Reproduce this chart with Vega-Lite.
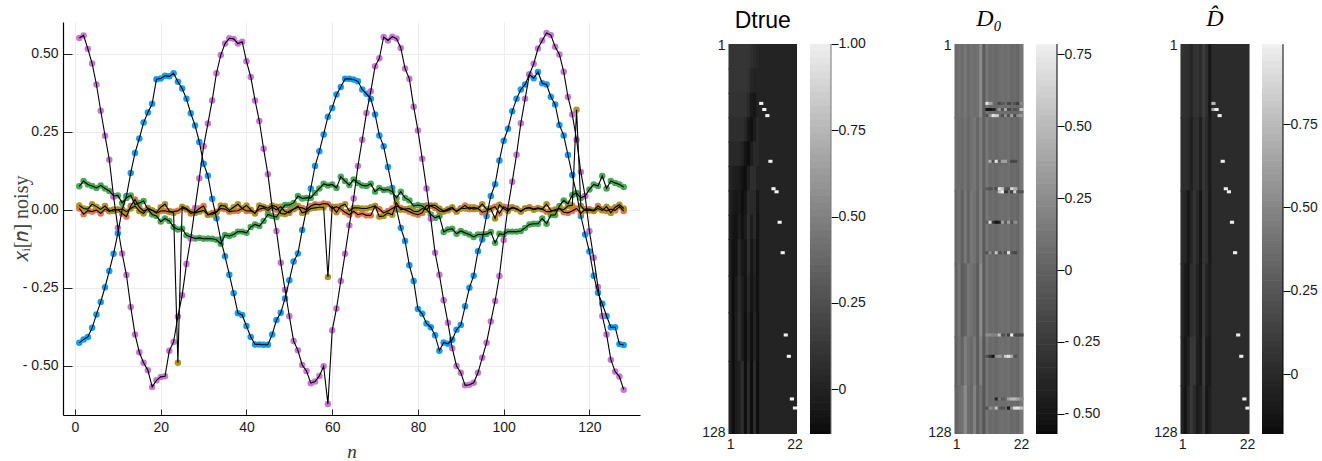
{"$schema":"https://vega.github.io/schema/vega-lite/v6.json","padding":{"left":11,"top":7,"right":5,"bottom":1},"bounds":"flush","spacing":13,"background":"white","config":{"view":{"stroke":null},"axis":{"labelFont":"Liberation Sans","labelFontSize":14,"labelColor":"#1a1a1a"}},"resolve":{"scale":{"color":"independent","x":"independent","y":"independent"}},
"datasets":{
"lines":[
{"n":1,"a":-0.426,"b":0.004,"c":0.075,"d":0.55,"e":0.014},{"n":2,"a":-0.415,"b":-0.014,"c":0.092,"d":0.558,"e":0.004},{"n":3,"a":-0.407,"b":-0.003,"c":0.081,"d":0.515,"e":0.002},{"n":4,"a":-0.378,"b":-0.006,"c":0.076,"d":0.468,"e":0.018},{"n":5,"a":-0.335,"b":-0.001,"c":0.07,"d":0.401,"e":0.01},{"n":6,"a":-0.295,"b":-0.012,"c":0.078,"d":0.317,"e":0.001},{"n":7,"a":-0.248,"b":0.002,"c":0.068,"d":0.237,"e":0.012},{"n":8,"a":-0.196,"b":-0.005,"c":0.06,"d":0.16,"e":-0.002},{"n":9,"a":-0.141,"b":0.001,"c":0.044,"d":0.042,"e":-0.004},{"n":10,"a":-0.075,"b":0.001,"c":0.046,"d":-0.058,"e":0.0},
{"n":11,"a":0.0,"b":-0.012,"c":0.022,"d":-0.14,"e":0.002},{"n":12,"a":0.044,"b":-0.022,"c":0.038,"d":-0.209,"e":-0.006},{"n":13,"a":0.118,"b":0.012,"c":0.046,"d":-0.311,"e":0.004},{"n":14,"a":0.182,"b":0.033,"c":0.017,"d":-0.399,"e":0.012},{"n":15,"a":0.228,"b":0.008,"c":0.022,"d":-0.456,"e":-0.004},{"n":16,"a":0.279,"b":-0.004,"c":0.028,"d":-0.49,"e":-0.012},{"n":17,"a":0.311,"b":0.002,"c":0.001,"d":-0.514,"e":0.006},{"n":18,"a":0.339,"b":-0.002,"c":-0.015,"d":-0.567,"e":-0.002},{"n":19,"a":0.418,"b":-0.011,"c":-0.02,"d":-0.546,"e":-0.008},{"n":20,"a":0.42,"b":-0.004,"c":-0.038,"d":-0.535,"e":0.008},
{"n":21,"a":0.429,"b":-0.003,"c":-0.028,"d":-0.533,"e":0.018},{"n":22,"a":0.427,"b":-0.007,"c":-0.036,"d":-0.451,"e":-0.004},{"n":23,"a":0.437,"b":-0.006,"c":-0.055,"d":-0.423,"e":-0.01},{"n":24,"a":0.41,"b":-0.003,"c":-0.063,"d":-0.342,"e":-0.49},{"n":25,"a":0.388,"b":0.006,"c":-0.061,"d":-0.274,"e":0.01},{"n":26,"a":0.355,"b":0.001,"c":-0.082,"d":-0.174,"e":0.004},{"n":27,"a":0.309,"b":-0.012,"c":-0.087,"d":-0.092,"e":-0.006},{"n":28,"a":0.27,"b":-0.008,"c":-0.092,"d":0.006,"e":-0.01},{"n":29,"a":0.217,"b":0.004,"c":-0.09,"d":0.101,"e":-0.006},{"n":30,"a":0.147,"b":0.012,"c":-0.093,"d":0.203,"e":-0.002},
{"n":31,"a":0.109,"b":-0.016,"c":-0.092,"d":0.276,"e":-0.016},{"n":32,"a":0.035,"b":-0.01,"c":-0.093,"d":0.35,"e":-0.015},{"n":33,"a":-0.027,"b":-0.006,"c":-0.096,"d":0.437,"e":-0.008},{"n":34,"a":-0.095,"b":0.004,"c":-0.109,"d":0.495,"e":0.014},{"n":35,"a":-0.149,"b":0.002,"c":-0.081,"d":0.532,"e":0.012},{"n":36,"a":-0.208,"b":-0.006,"c":-0.084,"d":0.549,"e":-0.002},{"n":37,"a":-0.267,"b":-0.004,"c":-0.079,"d":0.547,"e":0.008},{"n":38,"a":-0.331,"b":-0.003,"c":-0.07,"d":0.532,"e":0.018},{"n":39,"a":-0.337,"b":0.004,"c":-0.07,"d":0.538,"e":0.004},{"n":40,"a":-0.372,"b":-0.004,"c":-0.074,"d":0.475,"e":0.014},
{"n":41,"a":-0.407,"b":-0.003,"c":-0.055,"d":0.425,"e":0.0},{"n":42,"a":-0.431,"b":-0.01,"c":-0.047,"d":0.35,"e":-0.012},{"n":43,"a":-0.431,"b":0.002,"c":-0.052,"d":0.284,"e":0.014},{"n":44,"a":-0.432,"b":0.006,"c":-0.036,"d":0.195,"e":0.01},{"n":45,"a":-0.432,"b":-0.002,"c":-0.015,"d":0.114,"e":0.005},{"n":46,"a":-0.399,"b":0.008,"c":-0.02,"d":0.006,"e":0.014},{"n":47,"a":-0.353,"b":0.0,"c":-0.023,"d":-0.068,"e":0.01},{"n":48,"a":-0.33,"b":0.01,"c":-0.002,"d":-0.17,"e":-0.012},{"n":49,"a":-0.284,"b":-0.006,"c":0.015,"d":-0.256,"e":-0.014},{"n":50,"a":-0.226,"b":-0.01,"c":0.015,"d":-0.341,"e":-0.004},
{"n":51,"a":-0.166,"b":0.002,"c":0.022,"d":-0.42,"e":0.002},{"n":52,"a":-0.14,"b":0.008,"c":0.044,"d":-0.45,"e":0.012},{"n":53,"a":-0.065,"b":0.006,"c":0.036,"d":-0.497,"e":-0.01},{"n":54,"a":0.001,"b":0.0,"c":0.038,"d":-0.516,"e":-0.006},{"n":55,"a":0.068,"b":0.012,"c":0.038,"d":-0.555,"e":0.004},{"n":56,"a":0.14,"b":0.018,"c":0.054,"d":-0.55,"e":0.006},{"n":57,"a":0.187,"b":0.016,"c":0.068,"d":-0.532,"e":0.008},{"n":58,"a":0.241,"b":0.02,"c":0.083,"d":-0.501,"e":0.008},{"n":59,"a":0.298,"b":0.018,"c":0.078,"d":-0.622,"e":-0.215},{"n":60,"a":0.326,"b":0.004,"c":0.081,"d":-0.386,"e":0.01},
{"n":61,"a":0.369,"b":0.01,"c":0.07,"d":-0.316,"e":-0.008},{"n":62,"a":0.393,"b":0.002,"c":0.106,"d":-0.228,"e":0.012},{"n":63,"a":0.419,"b":-0.008,"c":0.092,"d":-0.141,"e":0.018},{"n":64,"a":0.419,"b":-0.016,"c":0.079,"d":-0.05,"e":-0.004},{"n":65,"a":0.417,"b":-0.005,"c":0.097,"d":0.036,"e":0.006},{"n":66,"a":0.411,"b":-0.016,"c":0.086,"d":0.14,"e":0.006},{"n":67,"a":0.385,"b":-0.012,"c":0.078,"d":0.224,"e":0.004},{"n":68,"a":0.371,"b":-0.018,"c":0.076,"d":0.31,"e":0.004},{"n":69,"a":0.355,"b":-0.018,"c":0.083,"d":0.379,"e":0.008},{"n":70,"a":0.305,"b":0.012,"c":0.058,"d":0.459,"e":0.012},
{"n":71,"a":0.238,"b":0.002,"c":0.07,"d":0.485,"e":-0.022},{"n":72,"a":0.203,"b":-0.01,"c":0.063,"d":0.553,"e":-0.02},{"n":73,"a":0.137,"b":-0.004,"c":0.065,"d":0.542,"e":-0.01},{"n":74,"a":0.07,"b":0.004,"c":0.058,"d":0.554,"e":-0.016},{"n":75,"a":0.001,"b":0.012,"c":0.038,"d":0.548,"e":0.022},{"n":76,"a":-0.058,"b":0.006,"c":0.058,"d":0.518,"e":0.0},{"n":77,"a":-0.1,"b":0.0,"c":0.038,"d":0.452,"e":0.002},{"n":78,"a":-0.178,"b":-0.006,"c":0.03,"d":0.419,"e":0.004},{"n":79,"a":-0.228,"b":-0.012,"c":0.012,"d":0.33,"e":-0.005},{"n":80,"a":-0.318,"b":-0.016,"c":0.015,"d":0.254,"e":-0.006},
{"n":81,"a":-0.333,"b":-0.01,"c":0.012,"d":0.163,"e":0.004},{"n":82,"a":-0.364,"b":0.014,"c":0.001,"d":0.068,"e":0.0},{"n":83,"a":-0.376,"b":0.012,"c":-0.015,"d":-0.029,"e":0.014},{"n":84,"a":-0.402,"b":0.006,"c":-0.026,"d":-0.138,"e":0.014},{"n":85,"a":-0.451,"b":-0.004,"c":-0.02,"d":-0.208,"e":0.004},{"n":86,"a":-0.425,"b":-0.006,"c":-0.071,"d":-0.29,"e":-0.004},{"n":87,"a":-0.429,"b":-0.002,"c":-0.063,"d":-0.362,"e":0.002},{"n":88,"a":-0.416,"b":0.004,"c":-0.061,"d":-0.443,"e":0.008},{"n":89,"a":-0.384,"b":-0.004,"c":-0.077,"d":-0.5,"e":-0.006},{"n":90,"a":-0.369,"b":0.004,"c":-0.068,"d":-0.522,"e":0.004},
{"n":91,"a":-0.309,"b":0.014,"c":-0.074,"d":-0.562,"e":0.004},{"n":92,"a":-0.25,"b":0.002,"c":-0.079,"d":-0.56,"e":0.008},{"n":93,"a":-0.211,"b":0.008,"c":-0.087,"d":-0.554,"e":0.002},{"n":94,"a":-0.133,"b":0.004,"c":-0.079,"d":-0.522,"e":0.004},{"n":95,"a":-0.095,"b":-0.008,"c":-0.079,"d":-0.474,"e":0.018},{"n":96,"a":-0.02,"b":-0.004,"c":-0.078,"d":-0.426,"e":0.002},{"n":97,"a":0.044,"b":0.004,"c":-0.071,"d":-0.358,"e":0.002},{"n":98,"a":0.082,"b":0.01,"c":-0.106,"d":-0.292,"e":-0.028},{"n":99,"a":0.158,"b":-0.012,"c":-0.077,"d":-0.212,"e":0.016},{"n":100,"a":0.221,"b":0.01,"c":-0.079,"d":-0.097,"e":0.004},
{"n":101,"a":0.259,"b":0.002,"c":-0.07,"d":0.008,"e":-0.004},{"n":102,"a":0.315,"b":0.006,"c":-0.07,"d":0.09,"e":0.008},{"n":103,"a":0.355,"b":0.004,"c":-0.07,"d":0.176,"e":0.002},{"n":104,"a":0.385,"b":-0.006,"c":-0.068,"d":0.277,"e":-0.004},{"n":105,"a":0.401,"b":0.004,"c":-0.058,"d":0.355,"e":0.004},{"n":106,"a":0.433,"b":0.008,"c":-0.047,"d":0.433,"e":0.006},{"n":107,"a":0.421,"b":0.002,"c":-0.045,"d":0.467,"e":0.0},{"n":108,"a":0.441,"b":0.006,"c":-0.045,"d":0.516,"e":0.004},{"n":109,"a":0.405,"b":0.002,"c":-0.028,"d":0.542,"e":0.002},{"n":110,"a":0.401,"b":-0.006,"c":-0.045,"d":0.566,"e":0.018},
{"n":111,"a":0.362,"b":-0.006,"c":-0.017,"d":0.559,"e":-0.002},{"n":112,"a":0.337,"b":0.001,"c":-0.017,"d":0.522,"e":-0.004},{"n":113,"a":0.271,"b":0.004,"c":0.012,"d":0.497,"e":0.004},{"n":114,"a":0.238,"b":-0.008,"c":0.03,"d":0.442,"e":0.0},{"n":115,"a":0.175,"b":-0.01,"c":0.019,"d":0.361,"e":0.012},{"n":116,"a":0.111,"b":-0.004,"c":0.047,"d":0.305,"e":0.014},{"n":117,"a":0.051,"b":0.004,"c":0.054,"d":0.224,"e":0.32},{"n":118,"a":-0.02,"b":-0.012,"c":0.038,"d":0.121,"e":0.012},{"n":119,"a":-0.079,"b":0.002,"c":0.044,"d":0.044,"e":-0.002},{"n":120,"a":-0.134,"b":0.002,"c":0.065,"d":-0.068,"e":-0.002},
{"n":121,"a":-0.211,"b":-0.002,"c":0.081,"d":-0.154,"e":-0.004},{"n":122,"a":-0.266,"b":0.012,"c":0.076,"d":-0.247,"e":0.004},{"n":123,"a":-0.301,"b":0.002,"c":0.108,"d":-0.34,"e":-0.002},{"n":124,"a":-0.34,"b":-0.004,"c":0.068,"d":-0.399,"e":0.01},{"n":125,"a":-0.376,"b":0.002,"c":0.092,"d":-0.48,"e":-0.01},{"n":126,"a":-0.376,"b":-0.002,"c":0.086,"d":-0.518,"e":0.008},{"n":127,"a":-0.43,"b":0.01,"c":0.081,"d":-0.534,"e":0.016},{"n":128,"a":-0.433,"b":-0.004,"c":0.073,"d":-0.576,"e":0.004}
],
"t":[
{"c":1,"a":0.5,"b":8.9,"v":0.1},{"c":2,"a":0.5,"b":8.9,"v":0.1},{"c":3,"a":0.5,"b":8.9,"v":0.1},{"c":4,"a":0.5,"b":8.9,"v":0.1},{"c":5,"a":0.5,"b":8.9,"v":0.1},{"c":6,"a":0.5,"b":8.9,"v":0.1},{"c":7,"a":0.5,"b":8.9,"v":0.1},{"c":8,"a":0.5,"b":8.9,"v":0.06},{"c":9,"a":0.5,"b":8.9,"v":0.04},{"c":10,"a":0.5,"b":8.9,"v":0.02},
{"c":1,"a":8.5,"b":16.9,"v":0.1},{"c":2,"a":8.5,"b":16.9,"v":0.1},{"c":3,"a":8.5,"b":16.9,"v":0.1},{"c":4,"a":8.5,"b":16.9,"v":0.1},{"c":5,"a":8.5,"b":16.9,"v":0.1},{"c":6,"a":8.5,"b":16.9,"v":0.1},{"c":7,"a":8.5,"b":16.9,"v":0.07},{"c":8,"a":8.5,"b":16.9,"v":0.01},{"c":9,"a":8.5,"b":16.9,"v":-0.01},{"c":10,"a":8.5,"b":16.9,"v":0},
{"c":1,"a":16.5,"b":24.9,"v":0.085},{"c":2,"a":16.5,"b":24.9,"v":0.085},{"c":3,"a":16.5,"b":24.9,"v":0.085},{"c":4,"a":16.5,"b":24.9,"v":0.085},{"c":5,"a":16.5,"b":24.9,"v":0.085},{"c":6,"a":16.5,"b":24.9,"v":0.085},{"c":7,"a":16.5,"b":24.9,"v":0.04},{"c":8,"a":16.5,"b":24.9,"v":-0.06},{"c":9,"a":16.5,"b":24.9,"v":-0.08},{"c":10,"a":16.5,"b":24.9,"v":-0.01},
{"c":1,"a":24.5,"b":32.9,"v":0.06},{"c":2,"a":24.5,"b":32.9,"v":0.06},{"c":3,"a":24.5,"b":32.9,"v":0.06},{"c":4,"a":24.5,"b":32.9,"v":0.06},{"c":5,"a":24.5,"b":32.9,"v":0.06},{"c":6,"a":24.5,"b":32.9,"v":0.02},{"c":7,"a":24.5,"b":32.9,"v":-0.07},{"c":8,"a":24.5,"b":32.9,"v":-0.11},{"c":9,"a":24.5,"b":32.9,"v":-0.05},{"c":10,"a":24.5,"b":32.9,"v":0.03},
{"c":1,"a":32.5,"b":40.9,"v":0.03},{"c":2,"a":32.5,"b":40.9,"v":0.03},{"c":3,"a":32.5,"b":40.9,"v":0.03},{"c":4,"a":32.5,"b":40.9,"v":0.03},{"c":5,"a":32.5,"b":40.9,"v":-0.01},{"c":6,"a":32.5,"b":40.9,"v":-0.09},{"c":7,"a":32.5,"b":40.9,"v":-0.12},{"c":8,"a":32.5,"b":40.9,"v":-0.04},{"c":9,"a":32.5,"b":40.9,"v":0.04},{"c":10,"a":32.5,"b":40.9,"v":0.03},
{"c":1,"a":40.5,"b":48.9,"v":0.01},{"c":2,"a":40.5,"b":48.9,"v":-0.02},{"c":3,"a":40.5,"b":48.9,"v":-0.04},{"c":4,"a":40.5,"b":48.9,"v":-0.05},{"c":5,"a":40.5,"b":48.9,"v":-0.1},{"c":6,"a":40.5,"b":48.9,"v":-0.12},{"c":7,"a":40.5,"b":48.9,"v":-0.02},{"c":8,"a":40.5,"b":48.9,"v":0.06},{"c":9,"a":40.5,"b":48.9,"v":0.06},{"c":10,"a":40.5,"b":48.9,"v":0},
{"c":1,"a":48.5,"b":56.9,"v":0},{"c":2,"a":48.5,"b":56.9,"v":-0.06},{"c":3,"a":48.5,"b":56.9,"v":-0.08},{"c":4,"a":48.5,"b":56.9,"v":-0.06},{"c":5,"a":48.5,"b":56.9,"v":-0.12},{"c":6,"a":48.5,"b":56.9,"v":-0.08},{"c":7,"a":48.5,"b":56.9,"v":0.05},{"c":8,"a":48.5,"b":56.9,"v":0.03},{"c":9,"a":48.5,"b":56.9,"v":0.03},{"c":10,"a":48.5,"b":56.9,"v":-0.08},
{"c":1,"a":56.5,"b":64.9,"v":-0.02},{"c":2,"a":56.5,"b":64.9,"v":-0.09},{"c":3,"a":56.5,"b":64.9,"v":-0.11},{"c":4,"a":56.5,"b":64.9,"v":-0.02},{"c":5,"a":56.5,"b":64.9,"v":-0.11},{"c":6,"a":56.5,"b":64.9,"v":-0.05},{"c":7,"a":56.5,"b":64.9,"v":0.07},{"c":8,"a":56.5,"b":64.9,"v":-0.04},{"c":9,"a":56.5,"b":64.9,"v":0.04},{"c":10,"a":56.5,"b":64.9,"v":-0.1},
{"c":1,"a":64.5,"b":76.9,"v":-0.02},{"c":2,"a":64.5,"b":76.9,"v":-0.11},{"c":3,"a":64.5,"b":76.9,"v":-0.1},{"c":4,"a":64.5,"b":76.9,"v":0.03},{"c":5,"a":64.5,"b":76.9,"v":-0.07},{"c":6,"a":64.5,"b":76.9,"v":-0.1},{"c":7,"a":64.5,"b":76.9,"v":0.06},{"c":8,"a":64.5,"b":76.9,"v":-0.08},{"c":9,"a":64.5,"b":76.9,"v":-0.01},{"c":10,"a":64.5,"b":76.9,"v":-0.11},
{"c":1,"a":76.5,"b":88.9,"v":0},{"c":2,"a":76.5,"b":88.9,"v":-0.12},{"c":3,"a":76.5,"b":88.9,"v":-0.06},{"c":4,"a":76.5,"b":88.9,"v":0.05},{"c":5,"a":76.5,"b":88.9,"v":-0.04},{"c":6,"a":76.5,"b":88.9,"v":-0.11},{"c":7,"a":76.5,"b":88.9,"v":0.03},{"c":8,"a":76.5,"b":88.9,"v":-0.09},{"c":9,"a":76.5,"b":88.9,"v":-0.03},{"c":10,"a":76.5,"b":88.9,"v":-0.1},
{"c":1,"a":88.5,"b":104.9,"v":0.01},{"c":2,"a":88.5,"b":104.9,"v":-0.12},{"c":3,"a":88.5,"b":104.9,"v":-0.04},{"c":4,"a":88.5,"b":104.9,"v":0.06},{"c":5,"a":88.5,"b":104.9,"v":-0.04},{"c":6,"a":88.5,"b":104.9,"v":-0.12},{"c":7,"a":88.5,"b":104.9,"v":0.01},{"c":8,"a":88.5,"b":104.9,"v":-0.11},{"c":9,"a":88.5,"b":104.9,"v":0.01},{"c":10,"a":88.5,"b":104.9,"v":-0.11},
{"c":1,"a":104.5,"b":128.5,"v":-0.01},{"c":2,"a":104.5,"b":128.5,"v":-0.12},{"c":3,"a":104.5,"b":128.5,"v":-0.05},{"c":4,"a":104.5,"b":128.5,"v":-0.02},{"c":5,"a":104.5,"b":128.5,"v":0.06},{"c":6,"a":104.5,"b":128.5,"v":-0.12},{"c":7,"a":104.5,"b":128.5,"v":0.05},{"c":8,"a":104.5,"b":128.5,"v":-0.12},{"c":9,"a":104.5,"b":128.5,"v":0.05},{"c":10,"a":104.5,"b":128.5,"v":-0.12},
{"c":11,"a":0.5,"b":128.5,"v":0},{"c":12,"a":0.5,"b":128.5,"v":0},{"c":13,"a":0.5,"b":128.5,"v":0},{"c":14,"a":0.5,"b":128.5,"v":0},{"c":15,"a":0.5,"b":128.5,"v":0},{"c":16,"a":0.5,"b":128.5,"v":0},{"c":17,"a":0.5,"b":128.5,"v":0},{"c":18,"a":0.5,"b":128.5,"v":0},{"c":19,"a":0.5,"b":128.5,"v":0},{"c":20,"a":0.5,"b":128.5,"v":0},{"c":21,"a":0.5,"b":128.5,"v":0},{"c":22,"a":0.5,"b":128.5,"v":0},
{"c":11,"a":19.5,"b":20.5,"v":1},{"c":12,"a":21.5,"b":22.5,"v":1},{"c":13,"a":23.5,"b":24.5,"v":1},{"c":14,"a":38.5,"b":39.5,"v":1},{"c":15,"a":47.5,"b":48.5,"v":1},{"c":16,"a":48.5,"b":49.5,"v":1},{"c":17,"a":58.5,"b":59.5,"v":1},{"c":18,"a":68.5,"b":69.5,"v":1},{"c":19,"a":95.5,"b":96.5,"v":1},{"c":20,"a":102.5,"b":103.5,"v":1},{"c":21,"a":116.5,"b":117.5,"v":1},{"c":22,"a":119.5,"b":120.5,"v":1}
],
"z":[
{"c":1,"a":0.5,"b":24.9,"v":0.04},{"c":2,"a":0.5,"b":24.9,"v":0.09},{"c":3,"a":0.5,"b":24.9,"v":0.05},{"c":4,"a":0.5,"b":24.9,"v":0.11},{"c":5,"a":0.5,"b":24.9,"v":0.04},{"c":6,"a":0.5,"b":24.9,"v":0.09},{"c":7,"a":0.5,"b":24.9,"v":0.06},{"c":8,"a":0.5,"b":24.9,"v":0.08},{"c":9,"a":0.5,"b":24.9,"v":0.24},{"c":10,"a":0.5,"b":24.9,"v":-0.05},
{"c":1,"a":24.5,"b":48.9,"v":0.05},{"c":2,"a":24.5,"b":48.9,"v":0.06},{"c":3,"a":24.5,"b":48.9,"v":0.04},{"c":4,"a":24.5,"b":48.9,"v":0.09},{"c":5,"a":24.5,"b":48.9,"v":0.02},{"c":6,"a":24.5,"b":48.9,"v":0.08},{"c":7,"a":24.5,"b":48.9,"v":0.11},{"c":8,"a":24.5,"b":48.9,"v":0.02},{"c":9,"a":24.5,"b":48.9,"v":0.15},{"c":10,"a":24.5,"b":48.9,"v":-0.02},
{"c":1,"a":48.5,"b":72.9,"v":0.02},{"c":2,"a":48.5,"b":72.9,"v":0.09},{"c":3,"a":48.5,"b":72.9,"v":-0.02},{"c":4,"a":48.5,"b":72.9,"v":0.12},{"c":5,"a":48.5,"b":72.9,"v":0},{"c":6,"a":48.5,"b":72.9,"v":0.12},{"c":7,"a":48.5,"b":72.9,"v":0.09},{"c":8,"a":48.5,"b":72.9,"v":0},{"c":9,"a":48.5,"b":72.9,"v":0.18},{"c":10,"a":48.5,"b":72.9,"v":-0.05},
{"c":1,"a":72.5,"b":96.9,"v":0},{"c":2,"a":72.5,"b":96.9,"v":0.12},{"c":3,"a":72.5,"b":96.9,"v":-0.05},{"c":4,"a":72.5,"b":96.9,"v":0},{"c":5,"a":72.5,"b":96.9,"v":0.12},{"c":6,"a":72.5,"b":96.9,"v":0.09},{"c":7,"a":72.5,"b":96.9,"v":0.04},{"c":8,"a":72.5,"b":96.9,"v":-0.05},{"c":9,"a":72.5,"b":96.9,"v":0.24},{"c":10,"a":72.5,"b":96.9,"v":-0.05},
{"c":1,"a":96.5,"b":112.9,"v":-0.02},{"c":2,"a":96.5,"b":112.9,"v":0.09},{"c":3,"a":96.5,"b":112.9,"v":0},{"c":4,"a":96.5,"b":112.9,"v":0.15},{"c":5,"a":96.5,"b":112.9,"v":0.08},{"c":6,"a":96.5,"b":112.9,"v":0.04},{"c":7,"a":96.5,"b":112.9,"v":0.12},{"c":8,"a":96.5,"b":112.9,"v":-0.05},{"c":9,"a":96.5,"b":112.9,"v":0.18},{"c":10,"a":96.5,"b":112.9,"v":-0.08},
{"c":1,"a":112.5,"b":128.5,"v":0},{"c":2,"a":112.5,"b":128.5,"v":0.06},{"c":3,"a":112.5,"b":128.5,"v":0.09},{"c":4,"a":112.5,"b":128.5,"v":0.24},{"c":5,"a":112.5,"b":128.5,"v":0.06},{"c":6,"a":112.5,"b":128.5,"v":0.02},{"c":7,"a":112.5,"b":128.5,"v":0.18},{"c":8,"a":112.5,"b":128.5,"v":-0.02},{"c":9,"a":112.5,"b":128.5,"v":0.09},{"c":10,"a":112.5,"b":128.5,"v":-0.08},
{"c":11,"a":0.5,"b":128.5,"v":0.12},{"c":12,"a":0.5,"b":128.5,"v":0.04},{"c":13,"a":0.5,"b":128.5,"v":0.06},{"c":14,"a":0.5,"b":128.5,"v":0.03},{"c":15,"a":0.5,"b":128.5,"v":0.06},{"c":16,"a":0.5,"b":128.5,"v":0.07},{"c":17,"a":0.5,"b":128.5,"v":0.05},{"c":18,"a":0.5,"b":128.5,"v":0.08},{"c":19,"a":0.5,"b":128.5,"v":0.03},{"c":20,"a":0.5,"b":128.5,"v":0.05},{"c":21,"a":0.5,"b":128.5,"v":0.02},{"c":22,"a":0.5,"b":128.5,"v":0.11},
{"c":11,"a":19.5,"b":20.5,"v":0.71},{"c":12,"a":19.5,"b":20.5,"v":0.36},{"c":15,"a":19.5,"b":20.5,"v":-0.17},{"c":16,"a":19.5,"b":20.5,"v":-0.05},{"c":18,"a":19.5,"b":20.5,"v":-0.17},{"c":20,"a":19.5,"b":20.5,"v":-0.11},{"c":21,"a":19.5,"b":20.5,"v":-0.23},{"c":22,"a":19.5,"b":20.5,"v":0.24},
{"c":11,"a":21.5,"b":22.5,"v":-0.52},{"c":12,"a":21.5,"b":22.5,"v":-0.52},{"c":13,"a":21.5,"b":22.5,"v":-0.41},{"c":15,"a":21.5,"b":22.5,"v":0.3},{"c":16,"a":21.5,"b":22.5,"v":-0.11},{"c":17,"a":21.5,"b":22.5,"v":0.36},{"c":18,"a":21.5,"b":22.5,"v":-0.17},{"c":20,"a":21.5,"b":22.5,"v":-0.11},{"c":21,"a":21.5,"b":22.5,"v":-0.05},{"c":22,"a":21.5,"b":22.5,"v":0.54},
{"c":11,"a":23.5,"b":24.5,"v":-0.11},{"c":12,"a":23.5,"b":24.5,"v":0.24},{"c":13,"a":23.5,"b":24.5,"v":0.71},{"c":14,"a":23.5,"b":24.5,"v":0.59},{"c":16,"a":23.5,"b":24.5,"v":-0.11},{"c":17,"a":23.5,"b":24.5,"v":0.24},{"c":18,"a":23.5,"b":24.5,"v":-0.11},{"c":19,"a":23.5,"b":24.5,"v":0.36},{"c":20,"a":23.5,"b":24.5,"v":-0.17},{"c":21,"a":23.5,"b":24.5,"v":0.24},{"c":22,"a":23.5,"b":24.5,"v":0.3},
{"c":12,"a":38.5,"b":39.5,"v":0.42},{"c":13,"a":38.5,"b":39.5,"v":-0.11},{"c":14,"a":38.5,"b":39.5,"v":0.71},{"c":15,"a":38.5,"b":39.5,"v":-0.05},{"c":16,"a":38.5,"b":39.5,"v":0.36},{"c":17,"a":38.5,"b":39.5,"v":0.36},{"c":18,"a":38.5,"b":39.5,"v":0.06},{"c":19,"a":38.5,"b":39.5,"v":-0.17},{"c":20,"a":38.5,"b":39.5,"v":-0.17},
{"c":11,"a":47.5,"b":48.5,"v":-0.05},{"c":12,"a":47.5,"b":48.5,"v":-0.11},{"c":14,"a":47.5,"b":48.5,"v":-0.17},{"c":15,"a":47.5,"b":48.5,"v":0.71},{"c":16,"a":47.5,"b":48.5,"v":0.54},{"c":17,"a":47.5,"b":48.5,"v":-0.05},{"c":18,"a":47.5,"b":48.5,"v":-0.11},{"c":19,"a":47.5,"b":48.5,"v":0.65},{"c":20,"a":47.5,"b":48.5,"v":0.42},
{"c":15,"a":48.5,"b":49.5,"v":0.54},{"c":16,"a":48.5,"b":49.5,"v":0.77},{"c":17,"a":48.5,"b":49.5,"v":-0.29},{"c":19,"a":48.5,"b":49.5,"v":-0.23},{"c":20,"a":48.5,"b":49.5,"v":0.59},{"c":21,"a":48.5,"b":49.5,"v":-0.11},{"c":22,"a":48.5,"b":49.5,"v":-0.11},
{"c":11,"a":58.5,"b":59.5,"v":-0.05},{"c":12,"a":58.5,"b":59.5,"v":0.65},{"c":13,"a":58.5,"b":59.5,"v":-0.29},{"c":14,"a":58.5,"b":59.5,"v":-0.52},{"c":15,"a":58.5,"b":59.5,"v":-0.41},{"c":16,"a":58.5,"b":59.5,"v":0.36},{"c":17,"a":58.5,"b":59.5,"v":-0.05},{"c":18,"a":58.5,"b":59.5,"v":0.36},{"c":19,"a":58.5,"b":59.5,"v":-0.11},{"c":20,"a":58.5,"b":59.5,"v":0.24},
{"c":11,"a":68.5,"b":69.5,"v":-0.11},{"c":12,"a":68.5,"b":69.5,"v":0.24},{"c":13,"a":68.5,"b":69.5,"v":-0.05},{"c":14,"a":68.5,"b":69.5,"v":0.54},{"c":15,"a":68.5,"b":69.5,"v":-0.11},{"c":17,"a":68.5,"b":69.5,"v":-0.11},{"c":18,"a":68.5,"b":69.5,"v":0.71},{"c":19,"a":68.5,"b":69.5,"v":-0.11},{"c":20,"a":68.5,"b":69.5,"v":-0.17},
{"c":11,"a":95.5,"b":96.5,"v":0.24},{"c":12,"a":95.5,"b":96.5,"v":0.24},{"c":13,"a":95.5,"b":96.5,"v":0.18},{"c":14,"a":95.5,"b":96.5,"v":0.18},{"c":15,"a":95.5,"b":96.5,"v":0.54},{"c":16,"a":95.5,"b":96.5,"v":-0.11},{"c":18,"a":95.5,"b":96.5,"v":-0.23},{"c":19,"a":95.5,"b":96.5,"v":0.77},{"c":20,"a":95.5,"b":96.5,"v":-0.17},{"c":21,"a":95.5,"b":96.5,"v":-0.17},{"c":22,"a":95.5,"b":96.5,"v":-0.17},
{"c":11,"a":102.5,"b":103.5,"v":-0.11},{"c":12,"a":102.5,"b":103.5,"v":-0.29},{"c":13,"a":102.5,"b":103.5,"v":-0.52},{"c":14,"a":102.5,"b":103.5,"v":0.24},{"c":15,"a":102.5,"b":103.5,"v":0.3},{"c":17,"a":102.5,"b":103.5,"v":0.59},{"c":18,"a":102.5,"b":103.5,"v":0.71},{"c":19,"a":102.5,"b":103.5,"v":0.42},{"c":20,"a":102.5,"b":103.5,"v":-0.11},
{"c":14,"a":116.5,"b":117.5,"v":-0.41},{"c":15,"a":116.5,"b":117.5,"v":0.12},{"c":16,"a":116.5,"b":117.5,"v":-0.05},{"c":18,"a":116.5,"b":117.5,"v":0.36},{"c":19,"a":116.5,"b":117.5,"v":0.48},{"c":20,"a":116.5,"b":117.5,"v":0.48},{"c":21,"a":116.5,"b":117.5,"v":0.36},{"c":22,"a":116.5,"b":117.5,"v":0.24},
{"c":11,"a":119.5,"b":120.5,"v":-0.11},{"c":12,"a":119.5,"b":120.5,"v":0.24},{"c":14,"a":119.5,"b":120.5,"v":0.54},{"c":15,"a":119.5,"b":120.5,"v":-0.05},{"c":16,"a":119.5,"b":120.5,"v":-0.11},{"c":18,"a":119.5,"b":120.5,"v":-0.52},{"c":19,"a":119.5,"b":120.5,"v":0.24},{"c":20,"a":119.5,"b":120.5,"v":0.71},{"c":21,"a":119.5,"b":120.5,"v":0.71},{"c":22,"a":119.5,"b":120.5,"v":0.54}
],
"h":[
{"c":1,"a":0.5,"b":24.9,"v":0.04},{"c":2,"a":0.5,"b":24.9,"v":0.03},{"c":3,"a":0.5,"b":24.9,"v":0.02},{"c":4,"a":0.5,"b":24.9,"v":-0.03},{"c":5,"a":0.5,"b":24.9,"v":0.04},{"c":6,"a":0.5,"b":24.9,"v":0.05},{"c":7,"a":0.5,"b":24.9,"v":0},{"c":8,"a":0.5,"b":24.9,"v":0.1},{"c":9,"a":0.5,"b":24.9,"v":0.02},{"c":10,"a":0.5,"b":24.9,"v":-0.13},
{"c":1,"a":24.5,"b":48.9,"v":0.02},{"c":2,"a":24.5,"b":48.9,"v":0.02},{"c":3,"a":24.5,"b":48.9,"v":0},{"c":4,"a":24.5,"b":48.9,"v":-0.07},{"c":5,"a":24.5,"b":48.9,"v":0.02},{"c":6,"a":24.5,"b":48.9,"v":0.03},{"c":7,"a":24.5,"b":48.9,"v":-0.07},{"c":8,"a":24.5,"b":48.9,"v":0.07},{"c":9,"a":24.5,"b":48.9,"v":0},{"c":10,"a":24.5,"b":48.9,"v":-0.11},
{"c":1,"a":48.5,"b":72.9,"v":0},{"c":2,"a":48.5,"b":72.9,"v":-0.02},{"c":3,"a":48.5,"b":72.9,"v":-0.12},{"c":4,"a":48.5,"b":72.9,"v":-0.04},{"c":5,"a":48.5,"b":72.9,"v":0.06},{"c":6,"a":48.5,"b":72.9,"v":-0.02},{"c":7,"a":48.5,"b":72.9,"v":-0.13},{"c":8,"a":48.5,"b":72.9,"v":0.06},{"c":9,"a":48.5,"b":72.9,"v":0.02},{"c":10,"a":48.5,"b":72.9,"v":-0.12},
{"c":1,"a":72.5,"b":96.9,"v":-0.02},{"c":2,"a":72.5,"b":96.9,"v":-0.09},{"c":3,"a":72.5,"b":96.9,"v":-0.13},{"c":4,"a":72.5,"b":96.9,"v":0.02},{"c":5,"a":72.5,"b":96.9,"v":0.05},{"c":6,"a":72.5,"b":96.9,"v":-0.05},{"c":7,"a":72.5,"b":96.9,"v":-0.13},{"c":8,"a":72.5,"b":96.9,"v":0.08},{"c":9,"a":72.5,"b":96.9,"v":-0.04},{"c":10,"a":72.5,"b":96.9,"v":-0.09},
{"c":1,"a":96.5,"b":112.9,"v":-0.03},{"c":2,"a":96.5,"b":112.9,"v":-0.13},{"c":3,"a":96.5,"b":112.9,"v":-0.07},{"c":4,"a":96.5,"b":112.9,"v":0.07},{"c":5,"a":96.5,"b":112.9,"v":0.07},{"c":6,"a":96.5,"b":112.9,"v":-0.07},{"c":7,"a":96.5,"b":112.9,"v":-0.12},{"c":8,"a":96.5,"b":112.9,"v":0.1},{"c":9,"a":96.5,"b":112.9,"v":-0.09},{"c":10,"a":96.5,"b":112.9,"v":-0.11},
{"c":1,"a":112.5,"b":128.5,"v":-0.04},{"c":2,"a":112.5,"b":128.5,"v":-0.14},{"c":3,"a":112.5,"b":128.5,"v":-0.03},{"c":4,"a":112.5,"b":128.5,"v":0.08},{"c":5,"a":112.5,"b":128.5,"v":0},{"c":6,"a":112.5,"b":128.5,"v":-0.1},{"c":7,"a":112.5,"b":128.5,"v":-0.06},{"c":8,"a":112.5,"b":128.5,"v":0.07},{"c":9,"a":112.5,"b":128.5,"v":-0.13},{"c":10,"a":112.5,"b":128.5,"v":-0.07},
{"c":11,"a":0.5,"b":128.5,"v":0},{"c":12,"a":0.5,"b":128.5,"v":0},{"c":13,"a":0.5,"b":128.5,"v":0},{"c":14,"a":0.5,"b":128.5,"v":0},{"c":15,"a":0.5,"b":128.5,"v":0},{"c":16,"a":0.5,"b":128.5,"v":0},{"c":17,"a":0.5,"b":128.5,"v":0},{"c":18,"a":0.5,"b":128.5,"v":0},{"c":19,"a":0.5,"b":128.5,"v":0},{"c":20,"a":0.5,"b":128.5,"v":0},{"c":21,"a":0.5,"b":128.5,"v":0},{"c":22,"a":0.5,"b":128.5,"v":0},
{"c":11,"a":19.5,"b":20.5,"v":0.72},{"c":11,"a":21.5,"b":22.5,"v":0.65},{"c":12,"a":21.5,"b":22.5,"v":0.97},{"c":13,"a":23.5,"b":24.5,"v":0.97},{"c":14,"a":38.5,"b":39.5,"v":0.97},{"c":15,"a":47.5,"b":48.5,"v":0.97},{"c":16,"a":48.5,"b":49.5,"v":0.97},{"c":17,"a":58.5,"b":59.5,"v":0.97},{"c":18,"a":68.5,"b":69.5,"v":0.97},{"c":19,"a":95.5,"b":96.5,"v":0.97},{"c":20,"a":102.5,"b":103.5,"v":0.97},{"c":21,"a":116.5,"b":117.5,"v":0.97},{"c":22,"a":119.5,"b":120.5,"v":0.97}
],
"bar":[{"a":-0.58,"b":-0.558},{"a":-0.56,"b":-0.538},{"a":-0.54,"b":-0.518},{"a":-0.52,"b":-0.498},{"a":-0.5,"b":-0.478},{"a":-0.48,"b":-0.458},{"a":-0.46,"b":-0.438},{"a":-0.44,"b":-0.418},{"a":-0.42,"b":-0.398},{"a":-0.4,"b":-0.378},{"a":-0.38,"b":-0.358},{"a":-0.36,"b":-0.338},{"a":-0.34,"b":-0.318},{"a":-0.32,"b":-0.298},{"a":-0.3,"b":-0.278},{"a":-0.28,"b":-0.258},{"a":-0.26,"b":-0.238},{"a":-0.24,"b":-0.218},{"a":-0.22,"b":-0.198},{"a":-0.2,"b":-0.178},{"a":-0.18,"b":-0.158},{"a":-0.16,"b":-0.138},{"a":-0.14,"b":-0.118},{"a":-0.12,"b":-0.098},{"a":-0.1,"b":-0.078},{"a":-0.08,"b":-0.058},{"a":-0.06,"b":-0.038},{"a":-0.04,"b":-0.018},{"a":-0.02,"b":0.002},{"a":0,"b":0.022},{"a":0.02,"b":0.042},{"a":0.04,"b":0.062},{"a":0.06,"b":0.082},{"a":0.08,"b":0.102},{"a":0.1,"b":0.122},{"a":0.12,"b":0.142},{"a":0.14,"b":0.162},{"a":0.16,"b":0.182},{"a":0.18,"b":0.202},{"a":0.2,"b":0.222},{"a":0.22,"b":0.242},{"a":0.24,"b":0.262},{"a":0.26,"b":0.282},{"a":0.28,"b":0.302},{"a":0.3,"b":0.322},{"a":0.32,"b":0.342},{"a":0.34,"b":0.362},{"a":0.36,"b":0.382},{"a":0.38,"b":0.402},{"a":0.4,"b":0.422},{"a":0.42,"b":0.442},{"a":0.44,"b":0.462},{"a":0.46,"b":0.482},{"a":0.48,"b":0.502},{"a":0.5,"b":0.522},{"a":0.52,"b":0.542},{"a":0.54,"b":0.562},{"a":0.56,"b":0.582},{"a":0.58,"b":0.602},{"a":0.6,"b":0.622},{"a":0.62,"b":0.642},{"a":0.64,"b":0.662},{"a":0.66,"b":0.682},{"a":0.68,"b":0.702},{"a":0.7,"b":0.722},{"a":0.72,"b":0.742},{"a":0.74,"b":0.762},{"a":0.76,"b":0.782},{"a":0.78,"b":0.786,"t":"d"},{"a":0.78,"b":0.802},{"a":0.8,"b":0.822},{"a":0.82,"b":0.842},{"a":0.84,"b":0.862},{"a":0.86,"b":0.882},{"a":0.88,"b":0.902},{"a":0.9,"b":0.922},{"a":0.92,"b":0.942},{"a":0.94,"b":0.962},{"a":0.96,"b":0.982},{"a":0.98,"b":0.99,"t":"h"},{"a":0.98,"b":1.0}]
},
"hconcat":[
{"width":577,"height":393,"data":{"name":"lines"},"transform":[{"fold":["a","b","c","d","e"]}],
"encoding":{"x":{"field":"n","type":"quantitative","scale":{"domain":[-2.8,131.8],"nice":false,"zero":false},"axis":{"values":[0,20,40,60,80,100,120],"title":"n","titleFont":"Liberation Serif","titleFontStyle":"italic","titleFontWeight":"normal","titleFontSize":19,"titleColor":"#333","titlePadding":8,"domainColor":"#000","domainWidth":1.2,"tickColor":"#222","tickSize":-6,"labelPadding":11,"grid":true,"gridColor":"#ececec","gridWidth":1}},
"y":{"field":"value","type":"quantitative","scale":{"domain":[-0.657,0.601],"nice":false,"zero":false},"axis":{"values":[-0.5,-0.25,0,0.25,0.5],"labelExpr":"datum.value<0 ? '- '+format(-datum.value,'.2f') : format(datum.value,'.2f')","title":"𝑥ᵢ[𝑛] noisy","titleFont":"Liberation Serif","titleFontWeight":"normal","titleFontSize":20,"titleColor":"#444","titlePadding":-9,"domainColor":"#000","domainWidth":1.2,"tickColor":"#222","tickSize":-9,"labelPadding":14,"grid":true,"gridColor":"#ececec","gridWidth":1}}},
"layer":[
{"mark":{"type":"point","filled":true,"opacity":0.95,"size":42},"encoding":{"color":{"field":"key","type":"nominal","legend":null,"scale":{"domain":["a","b","c","d","e"],"range":["#009AFA","#E36F47","#3EA44E","#C371D2","#AC8E18"]}},"order":{"field":"key"}}},
{"mark":{"type":"line","color":"#000","strokeWidth":1.1},"encoding":{"detail":{"field":"key"}}}
]},
{"width":62.5,"height":10,"data":{"values":[]},"mark":"rect"},
{"width":67.5,"height":412,"data":{"name":"t"},"title":{"text":"Dtrue","font":"Liberation Sans","fontWeight":"normal","fontSize":23,"color":"#000","anchor":"middle","offset":-11},"mark":{"type":"rect","width":{"band":1.35}},"encoding":{"x":{"field":"c","type":"ordinal","scale":{"domain":[1,2,3,4,5,6,7,8,9,10,11,12,13,14,15,16,17,18,19,20,21,22],"paddingInner":0,"paddingOuter":0},"axis":{"values":[1,22],"labelAngle":0,"title":null,"ticks":false,"domain":false,"labelPadding":3}},"y":{"field":"a","type":"quantitative","scale":{"domain":[-6.72,128.5],"nice":false,"zero":false,"reverse":true},"axis":{"values":[1,128],"title":null,"ticks":false,"domain":false,"grid":false,"labelPadding":4}},"y2":{"field":"b"},"color":{"field":"v","type":"quantitative","legend":null,"scale":{"domain":[-0.13,1],"range":["#0c0c0c","#f2f2f2"]}}}},
{"width":21,"height":412,"data":{"name":"bar"},"transform":[{"filter":"datum.b<=1.001"}],"encoding":{"y":{"field":"a","type":"quantitative","scale":{"domain":[-0.13,1.0637],"nice":false,"zero":false},"axis":{"orient":"right","values":[0,0.25,0.5,0.75,1],"labelExpr":"datum.value==0 ? '0' : (datum.value<0 ? '- '+format(-datum.value,'.2f') : format(datum.value,'.2f'))","title":null,"domain":false,"grid":false,"tickColor":"#000","tickSize":7,"labelPadding":0}},"y2":{"field":"b"}},"layer":[{"mark":{"type":"rect","clip":true},"encoding":{"x":{"datum":0,"type":"quantitative","scale":{"domain":[0,1]},"axis":null},"x2":{"datum":1},"color":{"field":"a","type":"quantitative","legend":null,"scale":{"domain":[-0.13,1],"range":["#0c0c0c","#f2f2f2"]}}}},{"data":{"values":[{"a":-0.13,"b":1}]},"transform":[],"mark":{"type":"rule","color":"#777","strokeWidth":1},"encoding":{"x":{"datum":1,"type":"quantitative"}}}]},
{"width":98,"height":10,"data":{"values":[]},"mark":"rect"},
{"width":68,"height":412,"data":{"name":"z"},"title":{"text":"D₀","font":"Liberation Serif","fontStyle":"italic","fontWeight":"normal","fontSize":24,"color":"#000","anchor":"middle","offset":-9},"mark":{"type":"rect","width":{"band":1.35}},"encoding":{"x":{"field":"c","type":"ordinal","scale":{"domain":[1,2,3,4,5,6,7,8,9,10,11,12,13,14,15,16,17,18,19,20,21,22],"paddingInner":0,"paddingOuter":0},"axis":{"values":[1,22],"labelAngle":0,"title":null,"ticks":false,"domain":false,"labelPadding":3}},"y":{"field":"a","type":"quantitative","scale":{"domain":[-6.72,128.5],"nice":false,"zero":false,"reverse":true},"axis":{"values":[1,128],"title":null,"ticks":false,"domain":false,"grid":false,"labelPadding":4}},"y2":{"field":"b"},"color":{"field":"v","type":"quantitative","legend":null,"scale":{"domain":[-0.57,0.786],"range":["#0c0c0c","#f2f2f2"]}}}},
{"width":21,"height":412,"data":{"name":"bar"},"transform":[{"filter":"datum.b<=0.783 || datum.t=='d'"}],"encoding":{"y":{"field":"a","type":"quantitative","scale":{"domain":[-0.57,0.8625],"nice":false,"zero":false},"axis":{"orient":"right","values":[-0.5,-0.25,0,0.25,0.5,0.75],"labelExpr":"datum.value==0 ? '0' : (datum.value<0 ? '- '+format(-datum.value,'.2f') : format(datum.value,'.2f'))","title":null,"domain":false,"grid":false,"tickColor":"#000","tickSize":7,"labelPadding":0}},"y2":{"field":"b"}},"layer":[{"mark":{"type":"rect","clip":true},"encoding":{"x":{"datum":0,"type":"quantitative","scale":{"domain":[0,1]},"axis":null},"x2":{"datum":1},"color":{"field":"a","type":"quantitative","legend":null,"scale":{"domain":[-0.57,0.786],"range":["#0c0c0c","#f2f2f2"]}}}},{"data":{"values":[{"a":-0.57,"b":0.786}]},"transform":[],"mark":{"type":"rule","color":"#000","strokeWidth":1},"encoding":{"x":{"datum":1,"type":"quantitative"}}}]},
{"width":98,"height":10,"data":{"values":[]},"mark":"rect"},
{"width":68,"height":412,"data":{"name":"h"},"title":{"text":"D̂","font":"Liberation Serif","fontStyle":"italic","fontWeight":"normal","fontSize":24,"color":"#000","anchor":"middle","offset":-9},"mark":{"type":"rect","width":{"band":1.35}},"encoding":{"x":{"field":"c","type":"ordinal","scale":{"domain":[1,2,3,4,5,6,7,8,9,10,11,12,13,14,15,16,17,18,19,20,21,22],"paddingInner":0,"paddingOuter":0},"axis":{"values":[1,22],"labelAngle":0,"title":null,"ticks":false,"domain":false,"labelPadding":3}},"y":{"field":"a","type":"quantitative","scale":{"domain":[-6.72,128.5],"nice":false,"zero":false,"reverse":true},"axis":{"values":[1,128],"title":null,"ticks":false,"domain":false,"grid":false,"labelPadding":4}},"y2":{"field":"b"},"color":{"field":"v","type":"quantitative","legend":null,"scale":{"domain":[-0.18,0.99],"range":["#0c0c0c","#f2f2f2"]}}}},
{"width":21,"height":412,"data":{"name":"bar"},"transform":[{"filter":"datum.b<=0.983 || datum.t=='h'"}],"encoding":{"y":{"field":"a","type":"quantitative","scale":{"domain":[-0.18,1.0567],"nice":false,"zero":false},"axis":{"orient":"right","values":[0,0.25,0.5,0.75],"labelExpr":"datum.value==0 ? '0' : (datum.value<0 ? '- '+format(-datum.value,'.2f') : format(datum.value,'.2f'))","title":null,"domain":false,"grid":false,"tickColor":"#000","tickSize":7,"labelPadding":0}},"y2":{"field":"b"}},"layer":[{"mark":{"type":"rect","clip":true},"encoding":{"x":{"datum":0,"type":"quantitative","scale":{"domain":[0,1]},"axis":null},"x2":{"datum":1},"color":{"field":"a","type":"quantitative","legend":null,"scale":{"domain":[-0.18,0.99],"range":["#0c0c0c","#f2f2f2"]}}}},{"data":{"values":[{"a":-0.18,"b":0.99}]},"transform":[],"mark":{"type":"rule","color":"#000","strokeWidth":1},"encoding":{"x":{"datum":1,"type":"quantitative"}}}]}
]}
